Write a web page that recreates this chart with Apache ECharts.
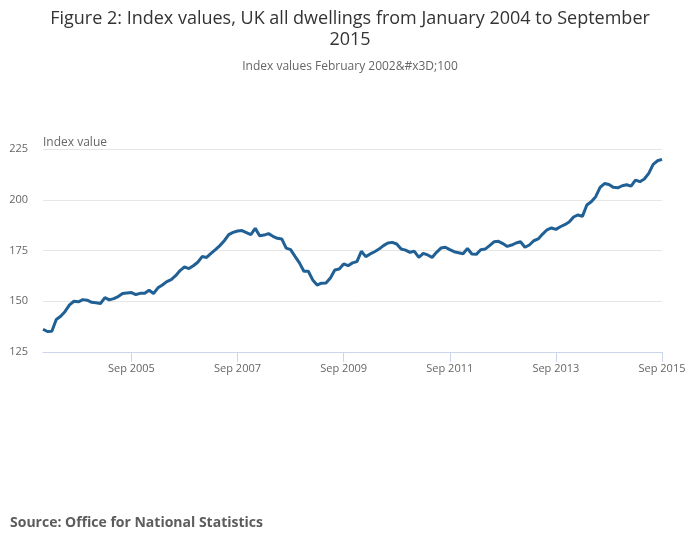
<!DOCTYPE html>
<html lang="en">
<head>
    <meta charset="UTF-8">
    <title>Index values, UK all dwellings</title>
    <script src="https://cdn.jsdelivr.net/npm/echarts@6/dist/echarts.min.js"></script>
    <style type="text/css">
        body{
            margin: 0px;
            padding: 0px;
        }
        #chart{
            width: 700px;
            height: 549px;
        }
    </style>
</head>
<body>
    <div id="chart"></div>
<script type="text/javascript">
    // monthly, Jan 2004 .. Sep 2015
    var years = [2004, 2005, 2006, 2007, 2008, 2009, 2010, 2011, 2012, 2013, 2014, 2015];
    var monthNames = ['Jan', 'Feb', 'Mar', 'Apr', 'May', 'Jun', 'Jul', 'Aug', 'Sep', 'Oct', 'Nov', 'Dec'];
    var indexValues = [
        136.2, 135.1, 135.2, 141.0, 142.6, 145.0, 148.2, 150.0, 149.7, 150.8, 150.5, 149.5,
        149.3, 148.9, 151.8, 150.7, 151.3, 152.3, 153.8, 154.1, 154.3, 153.3, 153.9, 153.9,
        155.4, 153.8, 156.6, 158.0, 159.7, 160.7, 162.6, 165.1, 166.9, 166.1, 167.5, 169.2,
        172.0, 171.6, 173.6, 175.4, 177.4, 179.8, 182.8, 183.9, 184.6, 184.8, 183.8, 182.8,
        185.9, 182.3, 182.6, 183.3, 182.0, 181.0, 180.7, 176.2, 175.4, 172.1, 168.9, 164.8,
        164.8, 160.5, 158.0, 158.9, 159.0, 161.5, 165.4, 165.9, 168.4, 167.5, 168.9, 169.5,
        174.6, 172.0, 173.3, 174.4, 175.7, 177.4, 178.7, 179.0, 178.2, 175.7, 175.2, 174.1,
        174.6, 171.6, 173.6, 172.8, 171.6, 174.1, 176.2, 176.6, 175.4, 174.4, 173.9, 173.4,
        176.0, 173.3, 173.1, 175.4, 175.7, 177.4, 179.3, 179.5, 178.4, 177.0, 177.7, 178.7,
        179.3, 176.6, 177.7, 179.8, 180.7, 183.1, 185.2, 186.1, 185.4, 186.7, 187.7, 189.0,
        191.5, 192.5, 191.8, 197.4, 199.0, 201.5, 206.1, 208.0, 207.5, 206.1, 205.9, 206.9,
        207.4, 206.7, 209.7, 208.9, 210.2, 213.0, 217.4, 219.2, 219.9
    ];
    var yTicks = [125, 150, 175, 200, 225];

    var months = [];
    years.forEach(function (y) {
        monthNames.forEach(function (m) {
            if (months.length < indexValues.length) months.push(m + ' ' + y);
        });
    });

    // labels every September from Sep 2005 (index 20)
    function showLabel(idx) {
        return idx >= 20 && (idx - 20) % 24 === 0;
    }

    var myChart = echarts.init(document.getElementById('chart'));
    myChart.setOption({
        backgroundColor: '#ffffff',
        textStyle: {fontFamily: 'Open Sans'},
        title: [
            {
                text: 'Figure 2: Index values, UK all dwellings from January 2004 to September\n2015',
                left: 'center',
                top: 3,
                textStyle: {fontSize: 18, fontWeight: 'normal', color: '#333333', lineHeight: 21, fontFamily: 'Open Sans'}
            },
            {
                text: 'Index values February 2002&#x3D;100',
                left: 'center',
                top: 56,
                textStyle: {fontSize: 12, fontWeight: 'normal', color: '#666666', fontFamily: 'Open Sans'}
            },
            {
                text: 'Source: Office for National Statistics',
                left: 5,
                top: 511,
                textStyle: {fontSize: 14, fontWeight: 'bold', color: '#5c5c5c', fontFamily: 'Open Sans'}
            }
        ],
        grid: {left: 43, right: 38, top: 149, bottom: 197, containLabel: false},
        xAxis: {
            type: 'category',
            data: months,
            boundaryGap: false,
            axisLine: {lineStyle: {color: '#ccd6eb', width: 1}},
            axisTick: {show: true, interval: function (idx) { return showLabel(idx); }, length: 10, lineStyle: {color: '#ccd6eb'}},
            axisLabel: {
                interval: function (idx) { return showLabel(idx); },
                color: '#666666',
                fontSize: 11,
                margin: 11
            },
            splitLine: {show: false}
        },
        yAxis: {
            type: 'value',
            min: yTicks[0],
            max: yTicks[yTicks.length - 1],
            interval: 25,
            name: 'Index value',
            nameLocation: 'end',
            nameGap: 0,
            nameTextStyle: {align: 'left', color: '#666666', fontSize: 12},
            axisLine: {show: false},
            axisTick: {show: false},
            axisLabel: {color: '#666666', fontSize: 11, margin: 15},
            splitLine: {lineStyle: {color: '#e6e6e6', width: 1}}
        },
        series: [
            {
                type: 'line',
                data: indexValues,
                showSymbol: false,
                lineStyle: {color: '#206095', width: 3},
                itemStyle: {color: '#206095'}
            }
        ]
    });
</script>
</body>
</html>
